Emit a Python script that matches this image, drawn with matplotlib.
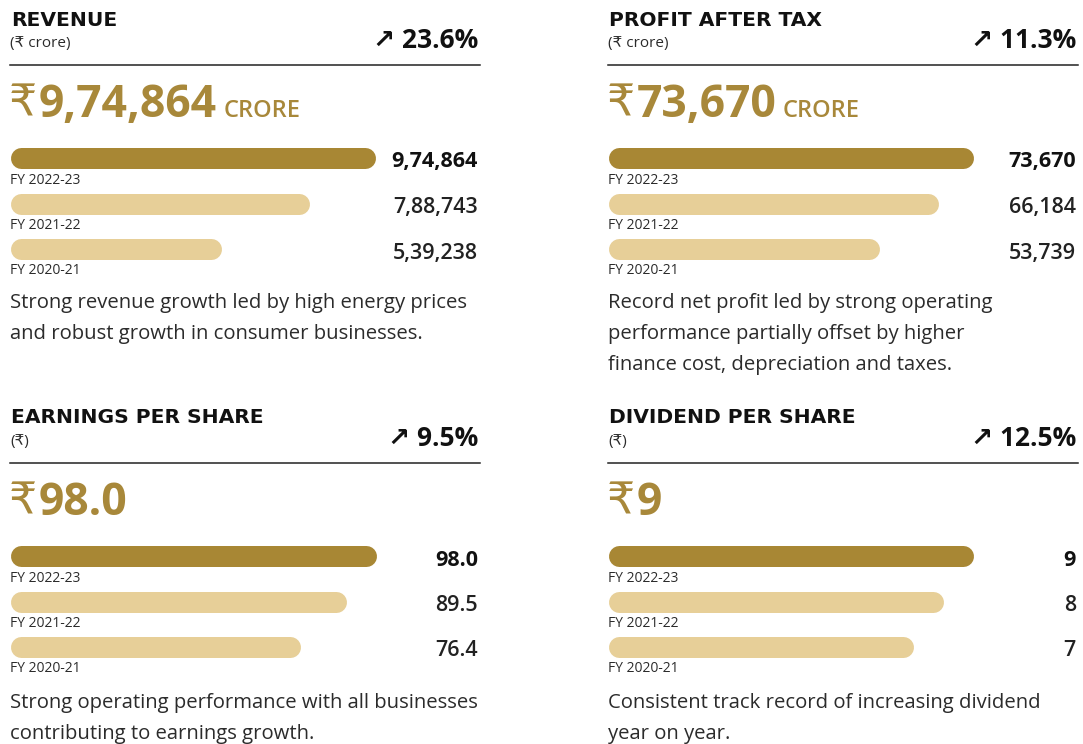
import matplotlib
matplotlib.use('Agg')
import matplotlib.pyplot as plt

W, H = 1083, 744

# ---------------- data ----------------
years = ['FY 2022-23', 'FY 2021-22', 'FY 2020-21']
revenue = [974864, 788743, 539238]
revenue_labels = ['9,74,864', '7,88,743', '5,39,238']
pat = [73670, 66184, 53739]
pat_labels = ['73,670', '66,184', '53,739']
eps = [98.0, 89.5, 76.4]
eps_labels = ['98.0', '89.5', '76.4']
dps = [9, 8, 7]
dps_labels = ['9', '8', '7']

titles = ['REVENUE', 'PROFIT AFTER TAX', 'EARNINGS PER SHARE', 'DIVIDEND PER SHARE']
units = ['(₹ crore)', '(₹ crore)', '(₹)', '(₹)']
growth = ['23.6%', '11.3%', '9.5%', '12.5%']
headline = ['9,74,864', '73,670', '98.0', '9']
headline_suffix = ['CRORE', 'CRORE', '', '']
notes = [
    ['Strong revenue growth led by high energy prices',
     'and robust growth in consumer businesses.'],
    ['Record net profit led by strong operating',
     'performance partially offset by higher',
     'finance cost, depreciation and taxes.'],
    ['Strong operating performance with all businesses',
     'contributing to earnings growth.'],
    ['Consistent track record of increasing dividend',
     'year on year.'],
]
series = [revenue, pat, eps, dps]
series_labels = [revenue_labels, pat_labels, eps_labels, dps_labels]

# ---------------- style ----------------
GOLD = '#A8883A'
DARK_BAR = '#A88734'
LIGHT_BAR = '#E7CF98'
TEXT = '#2b2b2b'
SANS = ['Open Sans', 'DejaVu Sans']
TITLE_FONT = ['DejaVu Sans']

fig = plt.figure(figsize=(W / 100, H / 100), dpi=100)
fig.patch.set_facecolor('white')
renderer = fig.canvas.get_renderer()


def put(x, y, s, **kw):
    return fig.text(x / W, 1 - y / H, s, **kw)


panels = [
    dict(x0=10, x1=480, dy=0, blen=365, start=0),
    dict(x0=608, x1=1078, dy=0, blen=365, start=0),
    dict(x0=10, x1=480, dy=398, blen=367, start=0),
    dict(x0=608, x1=1078, dy=398, blen=365, start=-2.66),
]

BAR_H = 21       # px
SPACING = 45.5   # px

for i, p in enumerate(panels):
    x0, x1, dy = p['x0'], p['x1'], p['dy']
    xr = x1 - 2
    # title block
    put(x0 + 1, 20 + dy, titles[i], family=TITLE_FONT, weight='bold', fontsize=14.6,
        color='#111111', va='center', ha='left')
    put(x0, 44 + dy, units[i], family=SANS, fontsize=11, color=TEXT,
        va='center', ha='left')
    put(xr, 41 + dy, '↗ ' + growth[i], family=SANS, weight='bold', fontsize=19,
        color='#111111', va='center', ha='right')
    fig.add_artist(plt.Line2D([x0 / W, x1 / W], [1 - (65 + dy) / H] * 2,
                              color='#222222', lw=1.1))

    # headline number: light rupee sign + bold figure + suffix
    base_y = 117 + dy
    t1 = put(x0 - 1, base_y, '₹', family=SANS, fontsize=32, color=GOLD,
             va='baseline', ha='left')
    bb = t1.get_window_extent(renderer)
    t2 = put(bb.x1 + 1, base_y, headline[i], family=SANS, weight='bold',
             fontsize=32, color=GOLD, va='baseline', ha='left')
    if headline_suffix[i]:
        bb2 = t2.get_window_extent(renderer)
        put(bb2.x1 + 7, base_y, headline_suffix[i], family=SANS, weight='semibold',
            fontsize=17, color=GOLD, va='baseline', ha='left')

    # bars
    c0 = 158 + dy
    r = BAR_H / 2
    left_px = x0 + r
    right_px = x0 + p['blen'] - r
    top_px = c0 - SPACING / 2
    bot_px = c0 + 2 * SPACING + SPACING / 2
    ax = fig.add_axes([left_px / W, 1 - bot_px / H,
                       (right_px - left_px) / W, (bot_px - top_px) / H])
    ax.set_xlim(p['start'], max(series[i]))
    ax.set_ylim(2.5, -0.5)
    ax.axis('off')
    lw_pt = BAR_H * 72 / 100
    for j, v in enumerate(series[i]):
        col = DARK_BAR if j == 0 else LIGHT_BAR
        ax.plot([p['start'], v], [j, j], color=col, lw=lw_pt,
                solid_capstyle='round', clip_on=False)
        cy = c0 + j * SPACING
        put(x0, cy + 22, years[j], family=SANS, fontsize=10, color=TEXT,
            va='center', ha='left')
        put(xr, cy + 4, series_labels[i][j], family=SANS,
            weight='bold' if j == 0 else 'semibold', fontsize=15.5,
            color='#111111' if j == 0 else '#222222', va='center', ha='right')

    # note text
    ny = 303 + dy + (2 if dy else 0)
    for k, line in enumerate(notes[i]):
        put(x0, ny + k * 31, line, family=SANS, fontsize=14.6, color=TEXT,
            va='center', ha='left')

fig.savefig('out.png', dpi=100, facecolor='white')
